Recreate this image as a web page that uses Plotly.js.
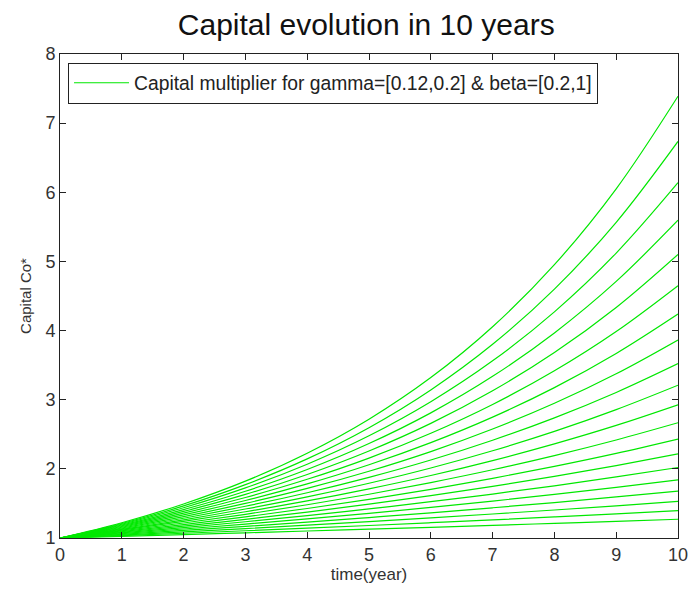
<!DOCTYPE html>
<html>
<head>
<meta charset="utf-8">
<script src="https://cdn.plot.ly/plotly-3.0.1.min.js"></script>
<style>html,body{margin:0;padding:0;background:#fff;}#chart{width:691px;height:591px;}</style>
</head>
<body>
<div id="chart"></div>
<script>
const years = [0,1,2,3,4,5,6,7,8,9,10];
const legendLabel = "Capital multiplier for gamma=[0.12,0.2] & beta=[0.2,1]";
const xTicks = [0,1,2,3,4,5,6,7,8,9,10];
const yTicks = [1,2,3,4,5,6,7,8];

// Capital multiplier curves (top to bottom), one value per year
const curve01 = [1, 1.221, 1.492, 1.822, 2.226, 2.718, 3.320, 4.055, 4.953, 6.050, 7.389];
const curve02 = [1, 1.210, 1.464, 1.772, 2.144, 2.595, 3.141, 3.801, 4.599, 5.566, 6.736];
const curve03 = [1, 1.199, 1.438, 1.724, 2.067, 2.478, 2.971, 3.562, 4.271, 5.121, 6.139];
const curve04 = [1, 1.188, 1.411, 1.676, 1.991, 2.366, 2.810, 3.338, 3.966, 4.711, 5.596];
const curve05 = [1, 1.177, 1.385, 1.630, 1.919, 2.259, 2.658, 3.129, 3.682, 4.334, 5.101];
const curve06 = [1, 1.166, 1.360, 1.586, 1.849, 2.156, 2.515, 2.932, 3.419, 3.987, 4.650];
const curve07 = [1, 1.155, 1.335, 1.542, 1.782, 2.059, 2.379, 2.748, 3.175, 3.669, 4.239];
const curve08 = [1, 1.145, 1.310, 1.500, 1.717, 1.966, 2.250, 2.576, 2.948, 3.375, 3.864];
const curve09 = [1, 1.134, 1.286, 1.459, 1.655, 1.877, 2.128, 2.414, 2.738, 3.105, 3.522];
const curve10 = [1, 1.124, 1.263, 1.419, 1.594, 1.792, 2.013, 2.262, 2.542, 2.857, 3.210];
const curve11 = [1, 1.113, 1.240, 1.380, 1.536, 1.711, 1.904, 2.120, 2.361, 2.628, 2.926];
const curve12 = [1, 1.103, 1.217, 1.342, 1.481, 1.633, 1.802, 1.987, 2.192, 2.418, 2.667];
const curve13 = [1, 1.093, 1.194, 1.305, 1.427, 1.559, 1.704, 1.862, 2.036, 2.224, 2.431];
const curve14 = [1, 1.083, 1.173, 1.270, 1.375, 1.489, 1.612, 1.746, 1.890, 2.047, 2.216];
const curve15 = [1, 1.073, 1.151, 1.235, 1.325, 1.421, 1.525, 1.636, 1.755, 1.883, 2.020];
const curve16 = [1, 1.063, 1.130, 1.201, 1.277, 1.357, 1.442, 1.533, 1.630, 1.732, 1.841];
const curve17 = [1, 1.053, 1.109, 1.168, 1.230, 1.296, 1.364, 1.437, 1.513, 1.594, 1.678];
const curve18 = [1, 1.043, 1.089, 1.136, 1.185, 1.237, 1.291, 1.347, 1.405, 1.466, 1.530];
const curve19 = [1, 1.034, 1.069, 1.105, 1.142, 1.181, 1.221, 1.262, 1.305, 1.349, 1.395];
const curve20 = [1, 1.024, 1.049, 1.075, 1.101, 1.128, 1.155, 1.183, 1.212, 1.241, 1.271];

const curves = [curve01,curve02,curve03,curve04,curve05,curve06,curve07,curve08,curve09,curve10,
                curve11,curve12,curve13,curve14,curve15,curve16,curve17,curve18,curve19,curve20];

const lineColor = 'rgb(0,232,0)';
const traces = curves.map((c, i) => ({
  x: years, y: c, type: 'scatter', mode: 'lines',
  line: {color: lineColor, width: 1.2, shape: 'spline', smoothing: 1},
  name: legendLabel, showlegend: i === 0, hoverinfo: 'skip'
}));

const axisCommon = {
  showgrid: false, zeroline: false, showline: true, linecolor: '#222', linewidth: 1,
  mirror: 'ticks', ticks: 'inside', ticklen: 6, tickcolor: '#222', tickwidth: 1,
  tickfont: {family: 'Liberation Sans, Arial, sans-serif', size: 18, color: '#333'}
};

const layout = {
  width: 691, height: 591,
  margin: {l: 60, r: 13, t: 54, b: 53},
  paper_bgcolor: '#fff', plot_bgcolor: '#fff',
  font: {family: 'Liberation Sans, Arial, sans-serif', color: '#111'},
  title: {text: 'Capital evolution in 10 years', font: {size: 30, color: '#111'},
          x: 0.53, xanchor: 'center', y: 0.958, yanchor: 'middle'},
  xaxis: Object.assign({}, axisCommon, {
    range: [0, 10], tickvals: xTicks, ticktext: xTicks.map(String),
    title: {text: 'time(year)', font: {size: 17, color: '#333'}, standoff: 2}
  }),
  yaxis: Object.assign({}, axisCommon, {
    range: [1, 8], tickvals: yTicks, ticktext: yTicks.map(String),
    title: {text: 'Capital Co*', font: {size: 15, color: '#333'}, standoff: 10}
  }),
  showlegend: true,
  legend: {x: 0.013, y: 0.982, xanchor: 'left', yanchor: 'top',
           bgcolor: '#fff', bordercolor: '#222', borderwidth: 1, itemwidth: 55,
           font: {size: 19.3, color: '#222'}}
};

Plotly.newPlot('chart', traces, layout, {displayModeBar: false, staticPlot: true});
</script>
</body>
</html>
